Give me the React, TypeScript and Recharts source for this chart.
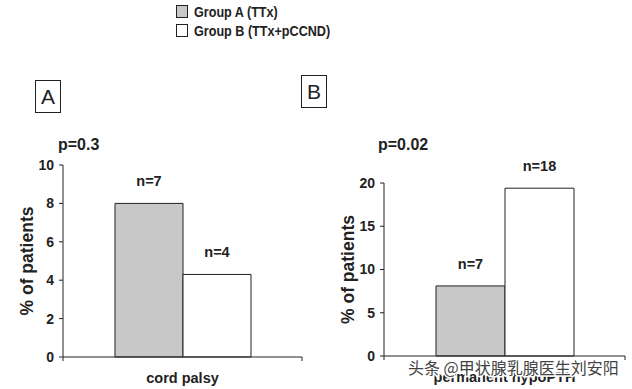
import React from "react";
import { BarChart, Bar, XAxis, YAxis, LabelList, usePlotArea } from "recharts";

const categories = ["cord palsy", "permanent hypoPTH"];
const groupA = [8.0, 8.1];
const groupB = [4.3, 19.4];
const countA = [7, 7];
const countB = [4, 18];
const panelLetters = ["A", "B"];
const pValues = ["p=0.3", "p=0.02"];
const yTicks = [
  [0, 2, 4, 6, 8, 10],
  [0, 5, 10, 15, 20],
];
const legendNames = ["Group A (TTx)", "Group B (TTx+pCCND)"];
const watermark = "头条 @甲状腺乳腺医生刘安阳";

const ink = "#222";
const grey = "#c8c8c8";
const font = "'Liberation Sans', Arial, sans-serif";

function EdgeTicks() {
  const area = usePlotArea();
  if (!area) return null;
  const y = area.y + area.height;
  return (
    <g stroke={ink} strokeWidth={1}>
      {[area.x, area.x + area.width].map((x) => (
        <line key={x} x1={x} x2={x} y1={y} y2={y + 4} />
      ))}
    </g>
  );
}

function Panel({ i, width, margin, barSize }: { i: number; width: number; margin: any; barSize: number }) {
  const data = [{ category: categories[i], a: groupA[i], b: groupB[i], na: countA[i], nb: countB[i] }];
  const ticks = yTicks[i];
  const tickStyle = { fill: ink, fontSize: 14, fontWeight: "bold", fontFamily: font };
  const nStyle = { fill: ink, fontSize: 14.5, fontWeight: "bold", fontFamily: font };
  return (
    <BarChart width={width} height={389} data={data} margin={margin} barGap={0} barSize={barSize}>
      <XAxis
        dataKey="category"
        tick={false}
        tickLine={false}
        axisLine={{ stroke: ink }}
        height={30}
        label={{
          value: categories[i],
          position: "insideBottom",
          offset: 4,
          style: { fill: ink, fontSize: 14.5, fontWeight: "bold", fontFamily: font },
        }}
      />
      <YAxis
        domain={[ticks[0], ticks[ticks.length - 1]]}
        ticks={ticks}
        interval={0}
        width={40}
        tick={tickStyle}
        tickSize={4}
        tickMargin={5}
        tickLine={{ stroke: ink }}
        axisLine={{ stroke: ink }}
        label={{
          value: "% of patients",
          angle: -90,
          position: "insideLeft",
          offset: 4,
          textAnchor: "middle",
          style: { fill: ink, fontSize: 17.5, fontWeight: "bold", fontFamily: font, textAnchor: "middle" },
        }}
      />
      <Bar dataKey="a" fill={grey} stroke={ink} strokeWidth={1} isAnimationActive={false}>
        <LabelList dataKey="na" position="top" offset={17} formatter={(v: any) => `n=${v}`} style={nStyle} />
      </Bar>
      <Bar dataKey="b" fill="#fff" stroke={ink} strokeWidth={1} isAnimationActive={false}>
        <LabelList dataKey="nb" position="top" offset={17} formatter={(v: any) => `n=${v}`} style={nStyle} />
      </Bar>
      <EdgeTicks />
    </BarChart>
  );
}

const abs = (left: number, top: number, extra: React.CSSProperties = {}): React.CSSProperties => ({
  position: "absolute",
  left,
  top,
  ...extra,
});

export default function App() {
  return (
    <div style={abs(0, 0, { width: 632, height: 389, background: "#fff", fontFamily: font, color: ink, overflow: "hidden" })}>
      {legendNames.map((name, k) => (
        <div key={name} style={abs(176, 4 + k * 19, { display: "flex", alignItems: "center", height: 14 })}>
          <span
            style={{
              display: "inline-block",
              width: 10,
              height: 11,
              border: `1px solid ${ink}`,
              background: k === 0 ? grey : "#fff",
              marginRight: 6,
            }}
          />
          <span
            style={{
              fontSize: 15,
              fontWeight: "bold",
              whiteSpace: "nowrap",
              display: "inline-block",
              transform: "scaleX(0.84)",
              transformOrigin: "left center",
            }}
          >
            {name}
          </span>
        </div>
      ))}

      <div style={abs(0, 0)}>
        <Panel i={0} width={320} margin={{ top: 165, right: 18, bottom: 2, left: 23 }} barSize={68} />
      </div>
      <div style={abs(320, 0)}>
        <Panel i={1} width={312} margin={{ top: 183, right: 7, bottom: 3, left: 24 }} barSize={69} />
      </div>

      {panelLetters.map((letter, k) => (
        <div
          key={letter}
          style={abs(k === 0 ? 35 : 301, k === 0 ? 80 : 75, {
            width: 24,
            height: 31,
            border: `1px solid ${ink}`,
            fontSize: 21,
            lineHeight: "31px",
            textAlign: "center",
            background: "#fff",
          })}
        >
          {letter}
        </div>
      ))}

      {pValues.map((p, k) => (
        <div key={p} style={abs(k === 0 ? 58 : 378, 136, { fontSize: 16, fontWeight: "bold", lineHeight: "18px" })}>
          {p}
        </div>
      ))}

      <svg width={632} height={389} style={abs(0, 0, { pointerEvents: "none" })}>
        <text
          x={408}
          y={374}
          fontSize={16}
          fontFamily="'Noto Sans CJK SC', sans-serif"
          fill="#444"
          stroke="#fff"
          strokeWidth={3}
          paintOrder="stroke"
        >
          {watermark}
        </text>
      </svg>
    </div>
  );
}
